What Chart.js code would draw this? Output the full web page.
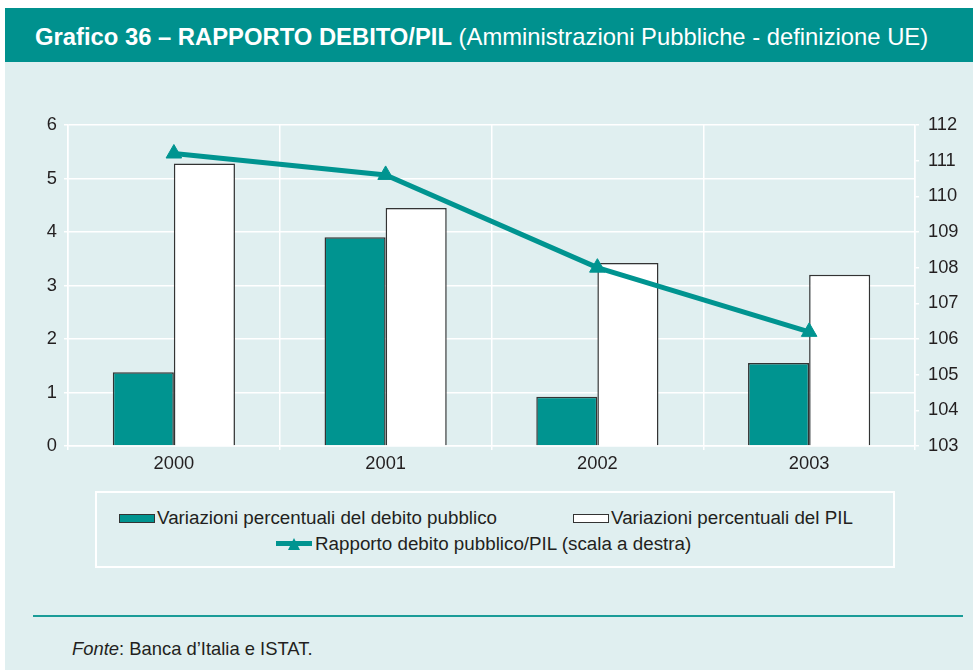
<!DOCTYPE html>
<html lang="it">
<head>
<meta charset="utf-8">
<script src="https://cdn.jsdelivr.net/npm/chart.js@4.4.1/dist/chart.umd.min.js"></script>
<style>
  html, body { margin: 0; padding: 0; background: #fff; }
  body { width: 973px; height: 670px; position: relative; overflow: hidden; font-family: "Liberation Sans", Arial, sans-serif; }
  .panel { position: absolute; left: 5px; top: 8px; right: 0; bottom: 0; background: #e0eff0; }
  .header { position: absolute; left: 5px; top: 8px; right: 0; height: 54px; background: #00918e; color: #fff; font-size: 23.8px; line-height: 58px; padding-left: 30px; box-sizing: border-box; white-space: nowrap; }
  .header b { font-weight: bold; }
  .chart-wrap { position: absolute; left: 0; top: 105px; width: 973px; height: 375px; }
  .legend { position: absolute; left: 95px; top: 491px; width: 800px; height: 77px; border: 2px solid #fff; box-sizing: border-box; }
  .legend-item { position: absolute; display: flex; align-items: center; font-size: 18.8px; color: #231f20; white-space: nowrap; }
  .legend-item .swatch { width: 36px; height: 9px; border: 1px solid #333; box-sizing: border-box; margin-right: 2px; }
  .rule { position: absolute; left: 33px; top: 615px; width: 930px; height: 2px; background: #1a9c98; }
  .source { position: absolute; left: 72px; top: 638px; font-size: 18.4px; color: #231f20; }
</style>
</head>
<body>
<div class="panel"></div>
<div class="header"><b>Grafico 36 – RAPPORTO DEBITO/PIL</b> (Amministrazioni Pubbliche - definizione UE)</div>
<div class="chart-wrap"><canvas id="debtChart"></canvas></div>
<div class="legend" id="legend"></div>
<div class="rule"></div>
<div class="source"><i>Fonte</i>: Banca d’Italia e ISTAT.</div>

<script>
const years = ['2000', '2001', '2002', '2003'];
const debtChange = [1.38, 3.9, 0.92, 1.55];
const gdpChange = [5.28, 4.45, 3.42, 3.2];
const debtRatio = [111.2, 110.6, 108.0, 106.2];
const leftTicks = [0, 1, 2, 3, 4, 5, 6];
const rightTicks = [103, 104, 105, 106, 107, 108, 109, 110, 111, 112];

const teal = '#009490';
const ink = '#231f20';
const tickFont = { family: '"Liberation Sans", Arial, sans-serif', size: 18.3 };

const chart = new Chart(document.getElementById('debtChart'), {
  type: 'bar',
  data: {
    labels: years,
    datasets: [
      {
        type: 'line',
        label: 'Rapporto debito pubblico/PIL (scala a destra)',
        data: debtRatio,
        yAxisID: 'y2',
        borderColor: teal,
        backgroundColor: teal,
        borderWidth: 5,
        pointStyle: 'triangle',
        pointRadius: 9,
        pointBorderWidth: 1,
        tension: 0,
        order: 0,
      },
      {
        label: 'Variazioni percentuali del debito pubblico',
        data: debtChange,
        yAxisID: 'y',
        backgroundColor: teal,
        borderColor: '#333',
        borderWidth: 1.5,
        order: 1,
      },
      {
        label: 'Variazioni percentuali del PIL',
        data: gdpChange,
        yAxisID: 'y',
        backgroundColor: '#fff',
        borderColor: '#333',
        borderWidth: 1.5,
        order: 2,
      },
    ],
  },
  options: {
    responsive: true,
    maintainAspectRatio: false,
    animation: false,
    layout: { padding: { top: 11, left: 0, right: 0, bottom: 0 } },
    datasets: { bar: { barPercentage: 1, categoryPercentage: 0.577 } },
    plugins: {
      legend: { display: false },
      tooltip: { enabled: false },
    },
    scales: {
      x: {
        grid: { color: '#fff', lineWidth: 1.5, offset: true, tickLength: 4 },
        border: { color: '#fff', width: 1.5 },
        ticks: { color: ink, font: tickFont, padding: 3 },
        afterFit: (s) => { s.height = 34; },
      },
      y: {
        position: 'left',
        min: 0,
        max: 6,
        afterBuildTicks: (s) => { s.ticks = leftTicks.map((v) => ({ value: v })); },
        grid: { color: '#fff', lineWidth: 1.5, tickLength: 4 },
        border: { color: '#fff', width: 1.5 },
        ticks: { color: ink, font: tickFont, padding: 7 },
        afterFit: (s) => { s.width = 68; },
      },
      y2: {
        position: 'right',
        min: 103,
        max: 112,
        afterBuildTicks: (s) => { s.ticks = rightTicks.map((v) => ({ value: v })); },
        grid: { drawOnChartArea: false, color: '#fff', lineWidth: 1.5, tickLength: 4 },
        border: { color: '#fff', width: 1.5 },
        ticks: { color: ink, font: tickFont, padding: 9 },
        afterFit: (s) => { s.width = 58; },
      },
    },
  },
});

// legend built from the chart's datasets: [line, debt bars, gdp bars]
const legendPos = [
  { left: 179, top: 40 },
  { left: 22, top: 14 },
  { left: 476, top: 14 },
];
const legend = document.getElementById('legend');
chart.data.datasets.forEach((ds, i) => {
  const item = document.createElement('div');
  item.className = 'legend-item';
  item.style.left = legendPos[i].left + 'px';
  item.style.top = legendPos[i].top + 'px';
  let swatch;
  if (ds.type === 'line') {
    swatch = '<svg width="36" height="14" style="margin-right:3px"><rect x="0" y="4" width="36" height="5" fill="' + ds.borderColor + '"/><polygon points="18,1 24,13 12,13" fill="' + ds.borderColor + '"/></svg>';
  } else {
    swatch = '<span class="swatch" style="background:' + ds.backgroundColor + '"></span>';
  }
  item.innerHTML = swatch + '<span>' + ds.label + '</span>';
  legend.appendChild(item);
});
</script>
</body>
</html>
